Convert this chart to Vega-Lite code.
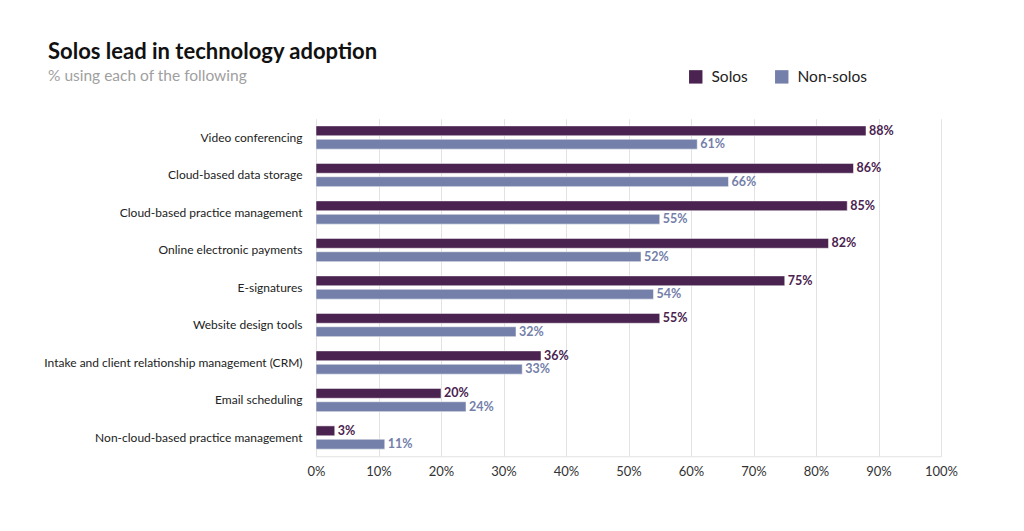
{
  "$schema": "https://vega.github.io/schema/vega-lite/v6.json",
  "width": 625,
  "height": 337.5,
  "autosize": {"type": "none"},
  "padding": {"left": 316, "top": 118.75, "right": 83, "bottom": 75},
  "background": "white",
  "config": {
    "font": "Lato",
    "view": {"stroke": null}
  },
  "title": {
    "text": "Solos lead in technology adoption",
    "subtitle": "% using each of the following",
    "anchor": "start",
    "frame": "group",
    "dx": -268,
    "offset": -17,
    "fontSize": 22,
    "fontWeight": "bold",
    "color": "#111111",
    "subtitleFontSize": 15.5,
    "subtitleColor": "#a0a0a0",
    "subtitlePadding": 5
  },
  "data": {
    "values": [
      {"category": "Video conferencing", "group": "Solos", "value": 88},
      {"category": "Video conferencing", "group": "Non-solos", "value": 61},
      {"category": "Cloud-based data storage", "group": "Solos", "value": 86},
      {"category": "Cloud-based data storage", "group": "Non-solos", "value": 66},
      {"category": "Cloud-based practice management", "group": "Solos", "value": 85},
      {"category": "Cloud-based practice management", "group": "Non-solos", "value": 55},
      {"category": "Online electronic payments", "group": "Solos", "value": 82},
      {"category": "Online electronic payments", "group": "Non-solos", "value": 52},
      {"category": "E-signatures", "group": "Solos", "value": 75},
      {"category": "E-signatures", "group": "Non-solos", "value": 54},
      {"category": "Website design tools", "group": "Solos", "value": 55},
      {"category": "Website design tools", "group": "Non-solos", "value": 32},
      {"category": "Intake and client relationship management (CRM)", "group": "Solos", "value": 36},
      {"category": "Intake and client relationship management (CRM)", "group": "Non-solos", "value": 33},
      {"category": "Email scheduling", "group": "Solos", "value": 20},
      {"category": "Email scheduling", "group": "Non-solos", "value": 24},
      {"category": "Non-cloud-based practice management", "group": "Solos", "value": 3},
      {"category": "Non-cloud-based practice management", "group": "Non-solos", "value": 11}
    ]
  },
  "encoding": {
    "y": {
      "field": "category",
      "type": "nominal",
      "sort": null,
      "scale": {"paddingInner": 0.38, "paddingOuter": 0.19},
      "axis": {
        "title": null,
        "domain": false,
        "ticks": false,
        "labelPadding": 14,
        "labelFontSize": 12,
        "labelColor": "#222222",
        "labelLimit": 400
      }
    },
    "yOffset": {
      "field": "group",
      "type": "nominal",
      "sort": ["Solos", "Non-solos"],
      "scale": {"paddingInner": 0.26, "paddingOuter": 0}
    },
    "x": {
      "field": "value",
      "type": "quantitative",
      "scale": {"domain": [0, 100], "nice": false},
      "axis": {
        "title": null,
        "values": [0, 10, 20, 30, 40, 50, 60, 70, 80, 90, 100],
        "labelExpr": "datum.value + '%'",
        "labelFlush": false,
        "grid": true,
        "gridColor": "#e2e2e2",
        "domainColor": "#e2e2e2",
        "ticks": false,
        "labelPadding": 9,
        "labelFontSize": 13,
        "labelColor": "#333333"
      }
    },
    "color": {
      "field": "group",
      "type": "nominal",
      "sort": ["Solos", "Non-solos"],
      "scale": {"domain": ["Solos", "Non-solos"], "range": ["#4a2350", "#7480a9"]},
      "legend": {
        "title": null,
        "orient": "none",
        "legendX": 372,
        "legendY": -50,
        "direction": "horizontal",
        "symbolType": "square",
        "symbolSize": 180,
        "symbolStrokeWidth": 0,
        "labelFontSize": 15.5,
        "labelColor": "#222222",
        "columnPadding": 26,
        "labelOffset": 8
      }
    }
  },
  "layer": [
    {"mark": {"type": "bar", "stroke": "white", "strokeWidth": 0.5}},
    {
      "mark": {
        "type": "text",
        "align": "left",
        "baseline": "middle",
        "dx": 3,
        "fontWeight": "bold",
        "fontSize": 12.5,
        "text": {"expr": "datum.value + '%'"}
      }
    }
  ]
}
